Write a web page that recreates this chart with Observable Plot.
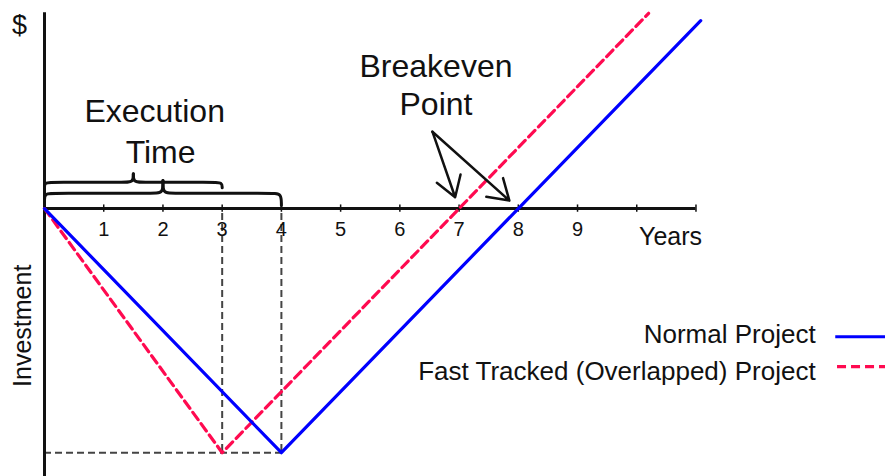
<!DOCTYPE html>
<html>
<head>
<meta charset="utf-8">
<script src="https://cdn.jsdelivr.net/npm/d3@7"></script>
<script src="https://cdn.jsdelivr.net/npm/@observablehq/plot@0.6"></script>
<style>
  html, body { margin: 0; padding: 0; background: #fff; }
  #chart svg { display: block; overflow: visible; }
</style>
</head>
<body>
<div id="chart"></div>
<script>
// Cumulative investment vs. time for a normal and a fast-tracked project
const seriesNames = ["Normal Project", "Fast Tracked (Overlapped) Project"];
const normalYears = [0, 4, 8, 11.08];
const normalValues = [0, -4, 0, 3.08];
const fastYears = [0, 3, 7, 10.2];
const fastValues = [0, -4, 0, 3.2];
const executionTimes = [3, 4];      // fast-tracked, normal
const breakevenYears = [7, 8];      // fast-tracked, normal
const tickYears = [1, 2, 3, 4, 5, 6, 7, 8, 9, 10, 11];
const tickLabels = ["1", "2", "3", "4", "5", "6", "7", "8", "9"];

const normalRows = normalYears.map((x, i) => ({year: x, value: normalValues[i]}));
const fastRows = fastYears.map((x, i) => ({year: x, value: fastValues[i]}));
const labelRows = tickLabels.map((t, i) => ({year: tickYears[i], text: t}));

const axisEnd = d3.max(tickYears);
const trough = d3.min(normalValues);

// Curly brace spanning [x0, x1], built as two B-spline halves meeting at the tip
function brace(x0, x1, base0, base1, bar, tip, r, id) {
  const mid = (x0 + x1) / 2;
  const left = [[x0, base0], [x0, bar], [x0 + r, bar], [mid - r, bar], [mid, bar], [mid, tip]];
  const right = [[mid, tip], [mid, bar], [mid + r, bar], [x1 - r, bar], [x1, bar], [x1, base1]];
  return [
    ...left.map(([x, y]) => ({x, y, part: id + "L"})),
    ...right.map(([x, y]) => ({x, y, part: id + "R"}))
  ];
}
const braces = [
  ...brace(0, executionTimes[0], 0.34, 0.34, 0.43, 0.57, 0.15, "fast"),
  ...brace(0, executionTimes[1], 0.12, 0.05, 0.25, 0.46, 0.15, "normal")
];

const arrows = breakevenYears.map(b => ({x1: 6.55, y1: 1.26, x2: b, y2: 0}));

const ink = "#111";
const blue = "#0000ff";
const red = "#ff0a50";

const chart = Plot.plot({
  width: 885,
  height: 476,
  marginTop: 0,
  marginBottom: 0,
  marginRight: 0,
  marginLeft: 44,
  x: {domain: [0, 14.2], axis: null},
  y: {domain: [-4.39, 3.41], axis: null},
  style: {fontFamily: "'Liberation Sans', Arial, sans-serif", background: "#fff", color: ink},
  marks: [
    // guides at the execution times and the peak investment
    Plot.ruleX(executionTimes, {x: d => d, y1: -0.08, y2: trough, stroke: "#444", strokeWidth: 2, strokeDasharray: "7,4"}),
    Plot.ruleY([trough], {x1: 0, x2: d3.max(executionTimes), stroke: "#444", strokeWidth: 2, strokeDasharray: "7,4"}),

    // axes
    Plot.ruleY([0], {x1: 0, x2: axisEnd, stroke: ink, strokeWidth: 3}),
    Plot.ruleX([0], {y1: -4.39, y2: 3.21, stroke: ink, strokeWidth: 3}),
    Plot.ruleX(tickYears, {x: d => d, y1: -0.06, y2: 0.06, stroke: ink, strokeWidth: 1.5}),
    Plot.text(labelRows, {x: "year", y: 0, text: "text", dy: 21, fontSize: 20, fill: ink}),
    Plot.text(["Years"], {x: 10.57, y: 0, dy: 28, fontSize: 25, fill: ink}),
    Plot.text(["$"], {x: -0.42, y: 3.01, fontSize: 27, fill: ink}),
    Plot.text(["Investment"], {x: -0.37, y: -1.92, rotate: -90, fontSize: 25, fill: ink}),

    // series
    Plot.line(fastRows, {x: "year", y: "value", stroke: red, strokeWidth: 3.2, strokeDasharray: "9,5"}),
    Plot.line(normalRows, {x: "year", y: "value", stroke: blue, strokeWidth: 3.2}),

    // execution-time braces and label
    Plot.line(braces, {x: "x", y: "y", z: "part", curve: "basis", stroke: ink, strokeWidth: 3}),
    Plot.text(["Execution"], {x: 1.86, y: 1.59, fontSize: 32, fill: ink}),
    Plot.text(["Time"], {x: 1.96, y: 0.92, fontSize: 32, fill: ink}),

    // breakeven annotation
    Plot.arrow(arrows, {x1: "x1", y1: "y1", x2: "x2", y2: "y2", insetEnd: 12, headLength: 14, headAngle: 65, stroke: ink, strokeWidth: 2.5}),
    Plot.text(["Breakeven"], {x: 6.61, y: 2.33, fontSize: 32, fill: ink}),
    Plot.text(["Point"], {x: 6.61, y: 1.70, fontSize: 32, fill: ink}),

    // legend
    Plot.text([seriesNames[0]], {x: 13.02, y: -2.07, textAnchor: "end", fontSize: 26, fill: ink}),
    Plot.ruleY([-2.10], {x1: 13.36, x2: 14.2, stroke: blue, strokeWidth: 3.2}),
    Plot.text([seriesNames[1]], {x: 13.02, y: -2.67, textAnchor: "end", fontSize: 26, fill: ink}),
    Plot.ruleY([-2.59], {x1: 13.39, x2: 14.2, stroke: red, strokeWidth: 3.2, strokeDasharray: "9,5"})
  ]
});
document.getElementById("chart").appendChild(chart);
</script>
</body>
</html>
